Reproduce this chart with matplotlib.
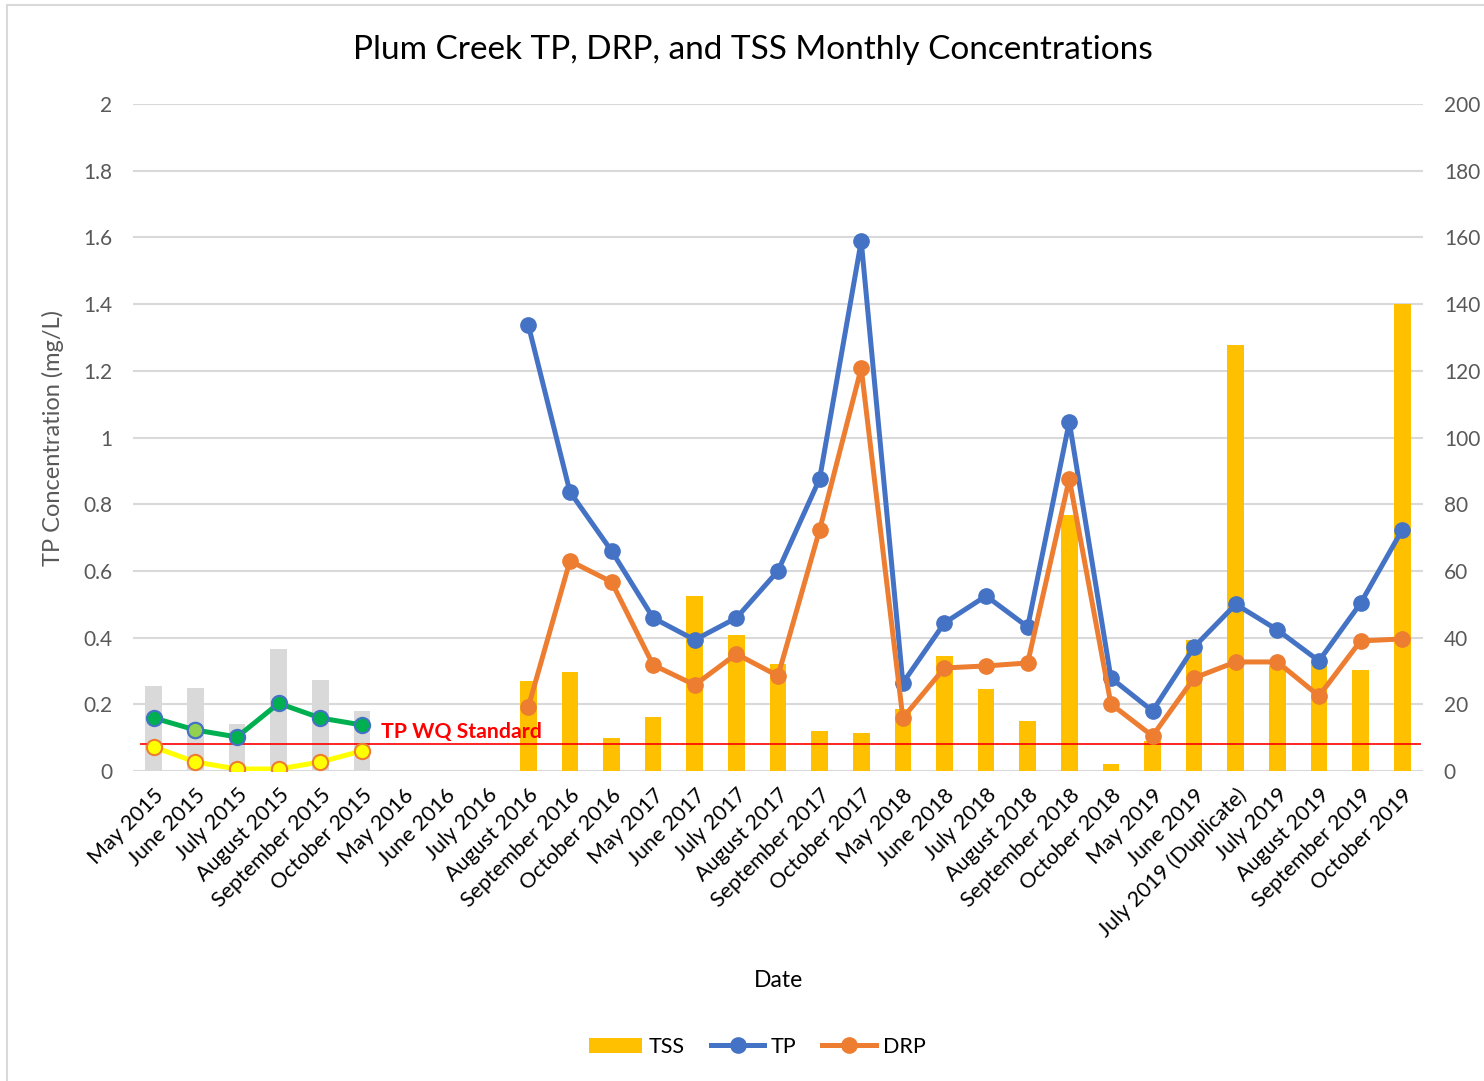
import numpy as np
import matplotlib
matplotlib.use("Agg")
import matplotlib.pyplot as plt
from matplotlib.patches import Rectangle

plt.rcParams["font.family"] = ["Lato", "DejaVu Sans"]

nan = np.nan

months = [
    "May 2015", "June 2015", "July 2015", "August 2015", "September 2015", "October 2015",
    "May 2016", "June 2016", "July 2016", "August 2016", "September 2016", "October 2016",
    "May 2017", "June 2017", "July 2017", "August 2017", "September 2017", "October 2017",
    "May 2018", "June 2018", "July 2018", "August 2018", "September 2018", "October 2018",
    "May 2019", "June 2019", "July 2019 (Duplicate)", "July 2019", "August 2019",
    "September 2019", "October 2019",
]

# TSS (mg/L, right axis)
tss_2015 = [25.5, 24.9, 14.1, 36.6, 27.3, 18.0] + [nan] * 25
tss = [nan] * 9 + [
    27.0, 29.7, 9.9,
    16.2, 52.5, 40.8, 32.1, 12.0, 11.4,
    18.6, 34.5, 24.6, 15.0, 76.8, 2.0,
    9.0, 39.3, 127.8, 31.5, 33.0, 30.3, 140.0,
]

# TP and DRP (mg/L, left axis)
tp_2015 = [0.159, 0.123, 0.102, 0.203, 0.159, 0.138] + [nan] * 25
drp_2015 = [0.072, 0.027, 0.006, 0.006, 0.027, 0.06] + [nan] * 25
tp = [nan] * 9 + [
    1.337, 0.837, 0.66,
    0.459, 0.393, 0.459, 0.60, 0.876, 1.589,
    0.264, 0.444, 0.525, 0.432, 1.047, 0.279,
    0.18, 0.372, 0.50, 0.423, 0.33, 0.503, 0.723,
]
drp = [nan] * 9 + [
    0.192, 0.63, 0.567,
    0.318, 0.258, 0.351, 0.285, 0.723, 1.208,
    0.159, 0.309, 0.315, 0.324, 0.876, 0.201,
    0.105, 0.279, 0.327, 0.327, 0.225, 0.39, 0.396,
]
tp_standard = 0.08

x = np.arange(len(months))

fig = plt.figure(figsize=(14.84, 10.81), dpi=100)
fig.patches.append(Rectangle((7 / 1484, -0.01), 1.02, 1 - 5 / 1081 + 0.01,
                             transform=fig.transFigure, fill=False,
                             edgecolor="#d9d9d9", linewidth=1.5))

ax = fig.add_axes([133 / 1484, 1 - 771 / 1081, 1290 / 1484, 667 / 1081])
ax2 = ax.twinx()
ax.set_zorder(ax2.get_zorder() + 1)
ax.patch.set_visible(False)

# bars on the secondary axis
ax2.bar(x, tss_2015, width=0.4, color="#d9d9d9", zorder=2)
bars = ax2.bar(x, tss, width=0.4, color="#ffc000", zorder=2, label="TSS")
ax2.set_ylim(0, 200)
ax2.set_yticks(np.arange(0, 201, 20))
ax2.grid(axis="y", color="#d9d9d9", linewidth=1.5, zorder=0)
ax2.set_axisbelow(True)

# lines on the primary axis
ax.plot(x, tp_2015, color="#00b050", lw=3.6, marker="o", ms=11,
        mfc="#00b050", mec="#4472c4", mew=1.5, zorder=3)
ax.plot([x[1]], [tp_2015[1]], ls="none", marker="o", ms=11,
        mfc="#92d050", mec="#4472c4", mew=1.5, zorder=4)
ax.plot(x, drp_2015, color="#ffff00", lw=3.6, marker="o", ms=11,
        mfc="#ffff00", mec="#ed7d31", mew=1.5, zorder=3)
l_tp, = ax.plot(x, tp, color="#4472c4", lw=3.6, marker="o", ms=11, zorder=3, label="TP")
l_drp, = ax.plot(x, drp, color="#ed7d31", lw=3.6, marker="o", ms=11, zorder=3, label="DRP")

ax.hlines(tp_standard, -0.33, 30.45, color="red", lw=1.2, zorder=2)
ax.text(5.45, tp_standard + 0.008, "TP WQ Standard", color="red", fontsize=15.3,
        fontweight="bold", ha="left", va="bottom")

ax.set_xlim(-0.5, len(months) - 0.5)
ax.set_ylim(0, 2)
ax.set_yticks(np.arange(0, 2.01, 0.2))
ax.set_yticklabels(["0", "0.2", "0.4", "0.6", "0.8", "1", "1.2", "1.4", "1.6", "1.8", "2"])
ax.set_xticks(x)
ax.set_xticklabels(months, rotation=45, ha="right", rotation_mode="anchor")

for a in (ax, ax2):
    for s in a.spines.values():
        s.set_visible(False)
    a.tick_params(length=0, labelsize=15, labelcolor="#595959")
ax.tick_params(axis="x", labelcolor="black", labelsize=15.5, pad=10)
ax.tick_params(axis="y", pad=15)
ax2.tick_params(axis="y", pad=15)

ax.set_ylabel("TP Concentration (mg/L)", fontsize=17, color="#595959", labelpad=14)
ax.set_xlabel("Date", fontsize=16.5, labelpad=21)
fig.text(0.507, 1 - 50 / 1081, "Plum Creek TP, DRP, and TSS Monthly Concentrations",
         fontsize=24, ha="center", va="center")

fig.legend([bars, l_tp, l_drp], ["TSS", "TP", "DRP"], loc="center",
           bbox_to_anchor=(757 / 1484, 1 - 1047 / 1081), ncol=3, frameon=False,
           fontsize=15.5, handlelength=2.5, columnspacing=1.2, handletextpad=0.3)

fig.savefig("out.png", dpi=100, facecolor="white")
